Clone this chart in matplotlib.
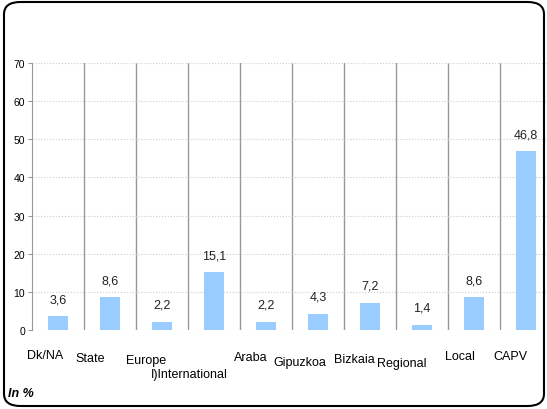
import numpy as np
import matplotlib.pyplot as plt
from matplotlib.patches import FancyBboxPatch

plt.rcParams['font.family'] = ['Liberation Sans', 'DejaVu Sans']

# data
categories = ['Dk/NA', 'State', 'Europe', 'I)International', 'Araba',
              'Gipuzkoa', 'Bizkaia', 'Regional', 'Local', 'CAPV']
values = [3.6, 8.6, 2.2, 15.1, 2.2, 4.3, 7.2, 1.4, 8.6, 46.8]
value_labels = ['3,6', '8,6', '2,2', '15,1', '2,2', '4,3', '7,2', '1,4', '8,6', '46,8']

# category label offsets (x in categories, y in pixels below axis)
lab_dx = [-0.25, -0.38, -0.3, -0.47, -0.3, -0.35, -0.31, -0.38, -0.28, -0.29]
lab_dy = [25, 28, 30, 44, 27, 32, 29, 33, 26, 26]

fig = plt.figure(figsize=(5.47, 4.10), dpi=100)
ax = fig.add_axes([32 / 547, 79 / 410, 515 / 547, 267 / 410])

x = np.arange(len(categories))
ax.bar(x, values, width=0.4, color='#99ccff', zorder=3)

for xi, v, lab in zip(x, values, value_labels):
    ax.annotate(lab, (xi, v), xytext=(0, 8), textcoords='offset points',
                ha='center', va='bottom', fontsize=9, color='#222222')

ax.set_xlim(-0.5, -0.5 + 515 / 52)
ax.set_ylim(0, 70)
ax.set_yticks(range(0, 71, 10))
ax.tick_params(axis='y', labelsize=7.5, length=3, color='#999999', pad=2)
ax.set_xticks([])
ax.yaxis.grid(True, linestyle=':', color='#cccccc', linewidth=0.8)

for b in np.arange(0.5, len(categories) - 1, 1):
    ax.axvline(b, color='#999999', linewidth=1, zorder=1)

for s in ['top', 'right', 'bottom']:
    ax.spines[s].set_visible(False)
ax.spines['left'].set_color('#999999')

trans = ax.get_xaxis_transform()
for i, lab in enumerate(categories):
    ax.annotate(lab, (i + lab_dx[i], 0), xycoords=trans,
                xytext=(0, -lab_dy[i] * 0.72), textcoords='offset points',
                ha='center', va='center', fontsize=9, annotation_clip=False)

fig.text(8 / 547, 1 - 394 / 410, 'In %', fontsize=9, fontweight='bold',
         fontstyle='italic', va='center')

box = FancyBboxPatch((4 / 547, 3 / 410), 540 / 547, 404 / 410,
                     boxstyle='round,pad=0,rounding_size=0.03',
                     transform=fig.transFigure, fill=False,
                     edgecolor='black', linewidth=1.5)
fig.patches.append(box)

fig.savefig('out.png', dpi=100)
